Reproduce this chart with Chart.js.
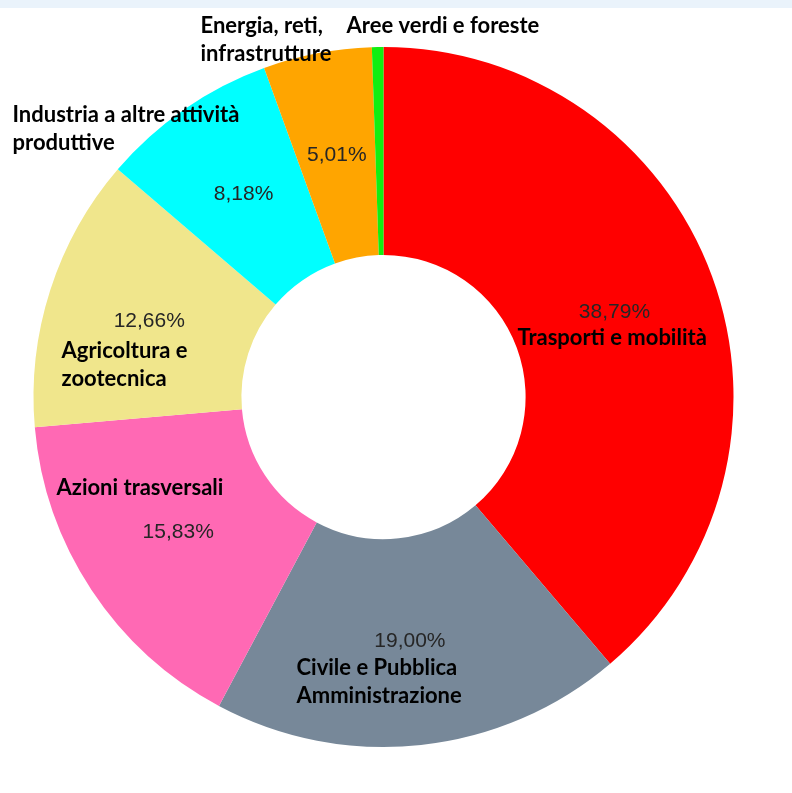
<!DOCTYPE html>
<html>
<head>
  <title>Ripartizione azioni per settore</title>
  <script src="https://cdn.jsdelivr.net/npm/chart.js"></script>
  <style>
    body { margin: 0; background: #fff; }
    #band { position: absolute; left: 0; top: 0; width: 792px; height: 8px; background: #eaf3fb; }
    #chart { position: absolute; left: 0; top: 0; }
  </style>
</head>
<body>
  <div id="band"></div>
  <canvas id="chart" width="792" height="793"></canvas>

  <script>
    // Data (percent of total)
    const categories = [
      'Trasporti e mobilità',
      'Civile e Pubblica Amministrazione',
      'Azioni trasversali',
      'Agricoltura e zootecnica',
      'Industria a altre attività produttive',
      'Energia, reti, infrastrutture',
      'Aree verdi e foreste'
    ];
    const shares = [38.79, 19.00, 15.83, 12.66, 8.18, 5.01, 0.53];
    const sliceColors = ['#ff0000', '#778899', '#ff69b4', '#f0e68c', '#00ffff', '#ffa500', '#11ee11'];
    // Category text split on lines as in the original
    const labelLines = [
      ['Trasporti e mobilità'],
      ['Civile e Pubblica', 'Amministrazione'],
      ['Azioni trasversali'],
      ['Agricoltura e', 'zootecnica'],
      ['Industria a altre attività', 'produttive'],
      ['Energia, reti,', 'infrastrutture'],
      ['Aree verdi e foreste']
    ];
    // Which slices show a percentage label
    const showPercent = [true, true, true, true, true, true, false];

    // Category label placement: offset of first baseline from the doughnut centre
    const labelOffsets = [
      [134, -52], [-87, 278], [-327, 98], [-322, -39],
      [-371, -275], [-183, -364], [-37, -364]
    ];

    const fmt = v => v.toFixed(2).replace('.', ',') + '%';

    const labelPlugin = {
      id: 'sliceLabels',
      afterDatasetsDraw(chart) {
        const ctx = chart.ctx;
        const arcs = chart.getDatasetMeta(0).data;
        const cx = arcs[0].x, cy = arcs[0].y;
        ctx.save();
        // percentages at slice centroid
        ctx.font = '21px "Liberation Sans", Arial, sans-serif';
        ctx.fillStyle = '#262626';
        ctx.textAlign = 'center';
        ctx.textBaseline = 'middle';
        arcs.forEach((arc, i) => {
          if (!showPercent[i]) return;
          const p = arc.tooltipPosition();
          ctx.fillText(fmt(shares[i]), p.x, p.y);
        });
        // category names
        ctx.font = 'bold 22px Lato, "Open Sans", sans-serif';
        ctx.fillStyle = '#000';
        ctx.textAlign = 'left';
        ctx.textBaseline = 'alphabetic';
        labelLines.forEach((lines, i) => {
          const [dx, dy] = labelOffsets[i];
          lines.forEach((t, j) => ctx.fillText(t, cx + dx, cy + dy + j * 28));
        });
        ctx.restore();
      }
    };

    const ctx = document.getElementById('chart').getContext('2d');
    const chart = new Chart(ctx, {
      type: 'doughnut',
      data: {
        labels: categories,
        datasets: [{
          data: shares,
          backgroundColor: sliceColors,
          borderWidth: 0
        }]
      },
      options: {
        responsive: false,
        animation: false,
        cutout: '40.6%',
        layout: { padding: { left: 33.5, right: 58.5, top: 47, bottom: 46 } },
        plugins: {
          legend: { display: false },
          tooltip: { enabled: false }
        }
      },
      plugins: [labelPlugin]
    });
  </script>
</body>
</html>
